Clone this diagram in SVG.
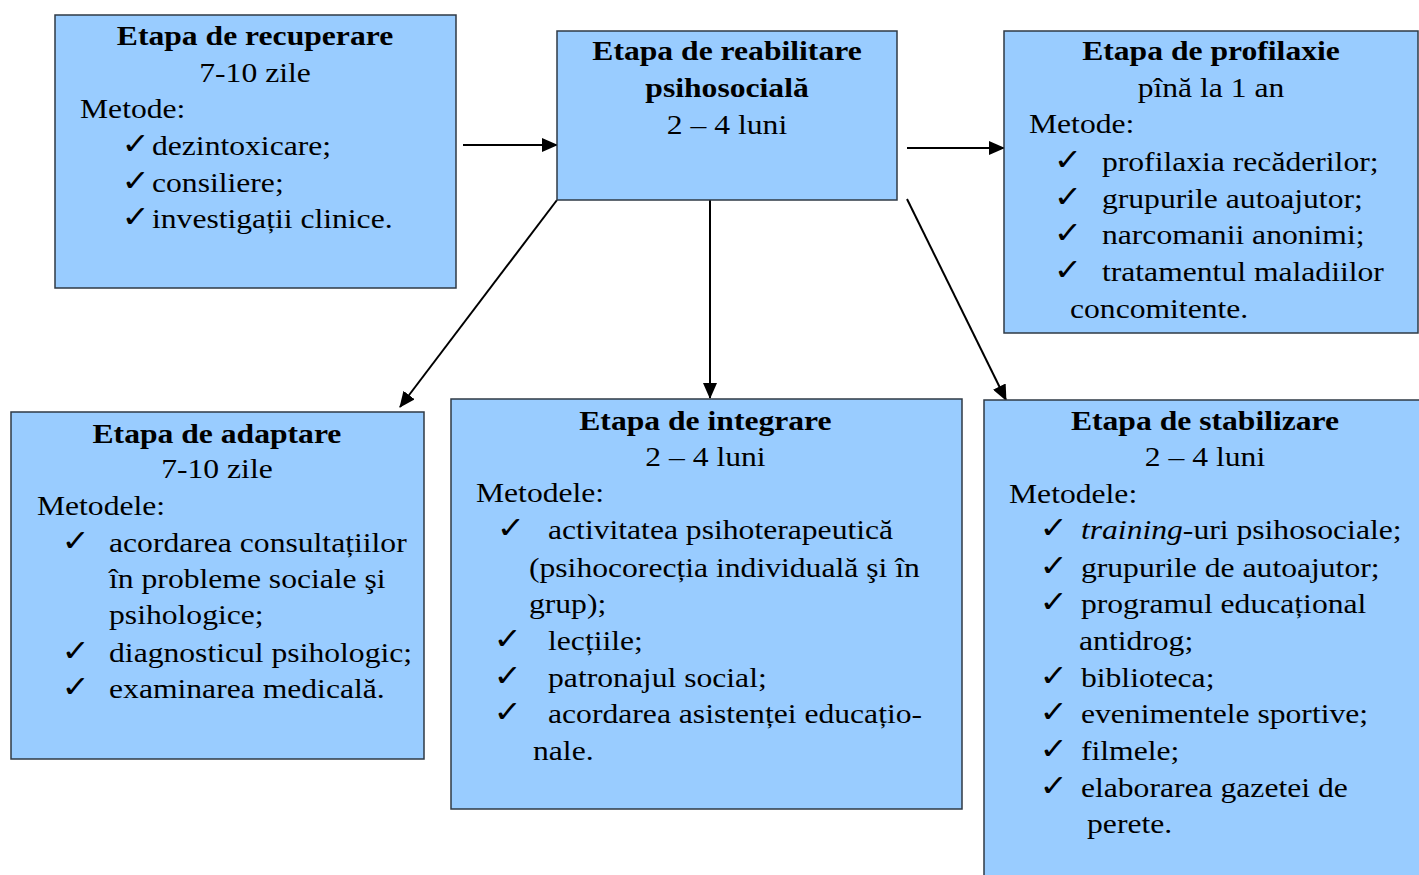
<svg xmlns="http://www.w3.org/2000/svg" width="1419" height="875" viewBox="0 0 1419 875">
<style>
.box{fill:#99CCFF;stroke:#2f3a45;stroke-width:1.5}
.t{font-family:"Liberation Serif","Times New Roman",serif;font-size:28px;fill:#000}
.b{font-weight:bold;text-anchor:middle}
.c{text-anchor:middle}
.ck{font-family:"DejaVu Sans",sans-serif;font-size:30px;font-weight:bold;fill:#000}
.ln{stroke:#000;stroke-width:2;fill:none;marker-end:url(#ah)}
</style>
<defs>
<marker id="ah" markerWidth="16" markerHeight="14" refX="15" refY="7" orient="auto" markerUnits="userSpaceOnUse">
<path d="M0,0 L16,7 L0,14 Z" fill="#000"/>
</marker>
</defs>
<rect width="1419" height="875" fill="#fff"/>
<g id="connectors">
<line class="ln" x1="463" y1="145" x2="557" y2="145"/>
<line class="ln" x1="907" y1="148" x2="1004" y2="148"/>
<line class="ln" x1="557" y1="200" x2="400" y2="407"/>
<line class="ln" x1="710" y1="200" x2="710" y2="398"/>
<line class="ln" x1="907" y1="199" x2="1006" y2="400"/>
</g>
<g id="recuperare">
<rect class="box" x="55" y="15" width="401" height="273"/>
<g transform="scale(1.13 1)">
<text class="t b" x="225.7" y="45">Etapa de recuperare</text>
<text class="t c" x="225.7" y="82">7-10 zile</text>
<text class="t" x="70.8" y="118">Metode:</text>
<text class="ck" x="107.5" y="154">✓</text><text class="t" x="134.5" y="155">dezintoxicare;</text>
<text class="ck" x="107.5" y="191">✓</text><text class="t" x="134.5" y="192">consiliere;</text>
<text class="ck" x="107.5" y="227">✓</text><text class="t" x="134.5" y="228">investigații clinice.</text>
</g>
</g>
<g id="reabilitare">
<rect class="box" x="557" y="31" width="340" height="169"/>
<g transform="scale(1.13 1)">
<text class="t b" x="643.4" y="60">Etapa de reabilitare</text>
<text class="t b" x="643.4" y="97">psihosocială</text>
<text class="t c" x="643.4" y="134">2 – 4 luni</text>
</g>
</g>
<g id="profilaxie">
<rect class="box" x="1004" y="31" width="414" height="302"/>
<g transform="scale(1.13 1)">
<text class="t b" x="1071.7" y="60">Etapa de profilaxie</text>
<text class="t c" x="1071.7" y="97">pînă la 1 an</text>
<text class="t" x="910.6" y="133">Metode:</text>
<text class="ck" x="932.5" y="170">✓</text><text class="t" x="975.2" y="171">profilaxia recăderilor;</text>
<text class="ck" x="932.5" y="207">✓</text><text class="t" x="975.2" y="208">grupurile autoajutor;</text>
<text class="ck" x="932.5" y="243">✓</text><text class="t" x="975.2" y="244">narcomanii anonimi;</text>
<text class="ck" x="932.5" y="280">✓</text><text class="t" x="975.2" y="281">tratamentul maladiilor</text>
<text class="t" x="946.9" y="318">concomitente.</text>
</g>
</g>
<g id="adaptare">
<rect class="box" x="11" y="412" width="413" height="347"/>
<g transform="scale(1.13 1)">
<text class="t b" x="192" y="443">Etapa de adaptare</text>
<text class="t c" x="192" y="478">7-10 zile</text>
<text class="t" x="32.7" y="515">Metodele:</text>
<text class="ck" x="54.5" y="551">✓</text><text class="t" x="96.5" y="552">acordarea consultațiilor</text>
<text class="t" x="96.5" y="588">în probleme sociale şi</text>
<text class="t" x="96.5" y="624">psihologice;</text>
<text class="ck" x="54.5" y="661">✓</text><text class="t" x="96.5" y="662">diagnosticul psihologic;</text>
<text class="ck" x="54.5" y="697">✓</text><text class="t" x="96.5" y="698">examinarea medicală.</text>
</g>
</g>
<g id="integrare">
<rect class="box" x="451" y="399" width="511" height="410"/>
<g transform="scale(1.13 1)">
<text class="t b" x="624.3" y="430">Etapa de integrare</text>
<text class="t c" x="624.3" y="466">2 – 4 luni</text>
<text class="t" x="421.2" y="502">Metodele:</text>
<text class="ck" x="439.5" y="538">✓</text><text class="t" x="485" y="539">activitatea psihoterapeutică</text>
<text class="t" x="468.1" y="577">(psihocorecția individuală şi în</text>
<text class="t" x="468.1" y="613">grup);</text>
<text class="ck" x="436.8" y="649">✓</text><text class="t" x="485" y="650">lecțiile;</text>
<text class="ck" x="436.8" y="686">✓</text><text class="t" x="485" y="687">patronajul social;</text>
<text class="ck" x="436.8" y="722">✓</text><text class="t" x="485" y="723">acordarea asistenței educațio-</text>
<text class="t" x="471.7" y="760">nale.</text>
</g>
</g>
<g id="stabilizare">
<rect class="box" x="984" y="400" width="440" height="480"/>
<g transform="scale(1.13 1)">
<text class="t b" x="1066.4" y="430">Etapa de stabilizare</text>
<text class="t c" x="1066.4" y="466">2 – 4 luni</text>
<text class="t" x="892.9" y="503">Metodele:</text>
<text class="ck" x="920" y="538">✓</text><text class="t" x="956.6" y="539"><tspan font-style="italic">training</tspan>-uri psihosociale;</text>
<text class="ck" x="920" y="576">✓</text><text class="t" x="956.6" y="577">grupurile de autoajutor;</text>
<text class="ck" x="920" y="612">✓</text><text class="t" x="956.6" y="613">programul educațional</text>
<text class="t" x="954.9" y="650">antidrog;</text>
<text class="ck" x="920" y="686">✓</text><text class="t" x="956.6" y="687">biblioteca;</text>
<text class="ck" x="920" y="722">✓</text><text class="t" x="956.6" y="723">evenimentele sportive;</text>
<text class="ck" x="920" y="759">✓</text><text class="t" x="956.6" y="760">filmele;</text>
<text class="ck" x="920" y="796">✓</text><text class="t" x="956.6" y="797">elaborarea gazetei de</text>
<text class="t" x="962" y="833">perete.</text>
</g>
</g>
</svg>
